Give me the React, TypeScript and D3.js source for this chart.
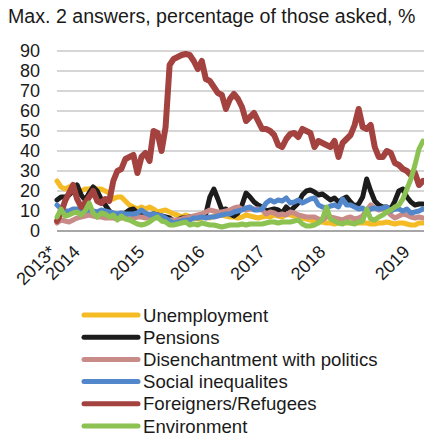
import React from "react";
import * as d3 from "d3";

// Survey points (index along the x axis) and share of respondents naming each issue, %
const unemployment = [
  25, 22, 21, 22, 23, 21, 20, 21, 21, 21.5, 21, 21, 20, 19, 16, 17, 17, 15, 13, 12,
  11, 12, 11, 12, 11, 9.5, 10, 10.5, 9.5, 8.5, 8, 7, 8, 7, 6.5, 6, 6.5, 7, 6.5, 7.5,
  8, 8, 7.5, 7, 7, 6.5, 7, 8, 7.5, 7, 6.5, 7, 7.5, 7, 8, 7.5, 7, 8.5, 8, 7.5,
  7, 6.5, 6, 5.5, 5, 4.5, 4.5, 4, 4, 3.5, 4, 4.5, 4, 4, 4.5, 4, 4, 4, 3.5, 3.5,
  4, 4, 4.5, 4, 3.5, 4, 4, 3.5, 3, 3, 4, 4,
];
const pensions = [
  15.5, 17, 17, 18, 20, 23, 18, 15.5, 19, 22, 20, 16, 13, 10, 8.5, 8, 8.5, 9, 10.5, 11,
  9, 8.5, 8, 8, 8.5, 8, 7.5, 7, 6.5, 5, 5.5, 6.5, 6.5, 7, 7, 7, 7.5, 8.5, 17, 21,
  16, 10.5, 11, 8.5, 7.5, 9, 13, 19, 17, 14.5, 13, 12, 10, 10.5, 11, 10.5, 9, 12, 10, 12,
  14, 18, 20, 20.5, 19.5, 18, 18.5, 17, 15.5, 16.5, 14.5, 16, 17, 14.5, 12.5, 13.5, 17, 26, 20, 15,
  13, 12, 12, 11, 15, 20, 21, 17, 14.5, 13, 13.5, 13.5,
];
const disenchantment = [
  4, 5.5, 5, 4.5, 5.5, 6.5, 7, 7.5, 8, 7.5, 7, 7, 6.5, 6.5, 6.5, 6, 6.5, 6.5, 6, 6.5,
  7, 7, 6.5, 7, 7.5, 6.5, 6.5, 5.5, 5.5, 5.5, 5.5, 6, 6.5, 7, 7.5, 8, 8.5, 9.5, 10.5, 10,
  9.5, 9.5, 10, 10.5, 11.5, 12, 11, 10.5, 11, 11, 11, 10.5, 8.5, 9.5, 9, 8, 8.5, 8, 9.5, 9,
  8, 7.5, 7, 7, 7, 6, 5.5, 7, 7, 6.5, 6, 5.5, 6.5, 7, 6, 6.5, 7.5, 10.5, 13, 11.5,
  10.5, 11, 10, 8, 6.5, 7.5, 8.5, 8, 7, 6.5, 7, 6.5,
];
const inequalities = [
  13, 11, 10, 10, 11, 11, 10, 10, 10.5, 10, 9.5, 10.5, 10, 9.5, 9, 8.5, 9, 8.5, 8.5, 8.5,
  9, 10.5, 9, 8, 8.5, 8, 7.5, 6.5, 5, 4, 4.5, 5, 5.5, 5.5, 6.5, 6.5, 7, 6.5, 7, 7,
  7.5, 8, 8.5, 8.5, 9.5, 10, 10.5, 11.5, 12, 10.5, 10.5, 11, 14, 15.5, 14.5, 15.5, 15, 16.5, 14, 14.5,
  15.5, 14, 15, 16, 16.5, 13, 12, 11.5, 12.5, 13, 12, 16, 13, 13, 12, 11, 11.5, 9.5, 11, 11.5,
  11, 11.5, 12, 10, 11, 11, 10, 11, 9, 9.5, 10, 11,
];
const refugees = [
  5, 9, 15, 19, 23, 16, 12, 14, 17, 20, 15, 14, 16, 15, 25, 30, 31, 36, 37, 38,
  29, 37, 39, 35, 50, 49, 40, 52, 83, 86, 87, 88, 88.5, 88, 85, 81, 85, 76, 75, 72,
  69, 68, 61, 66, 68.5, 66, 62, 55, 57, 59, 55, 51, 51, 50, 48, 43, 42, 46, 48.5, 49,
  47, 51, 50, 49, 42, 45, 44, 43, 42, 45, 37, 44, 46, 48, 53, 61, 52, 51, 53, 42,
  37, 37, 40, 39, 34, 33, 31, 30, 28, 29, 23, 25,
];
const environment = [
  7, 11, 7.5, 8, 9, 9.5, 8, 10, 14, 9, 7, 9, 8.5, 7, 8, 5.5, 7.5, 6, 5.5, 4.5,
  3.5, 3, 3.5, 4.5, 6, 7, 5, 4.5, 3, 3, 3.5, 4, 4.5, 3, 3.5, 3, 4, 3.5, 3, 3,
  2.5, 2, 2.5, 3, 3, 3, 3.5, 3, 3.5, 3.5, 3.5, 3.5, 4, 4.5, 4.5, 4, 4.5, 4.5, 4.5, 5,
  5.5, 3.5, 2.5, 2.5, 3, 4, 6, 12, 6, 5, 4, 3.5, 4.5, 4, 3.5, 4.5, 5, 11, 6, 5.5,
  7, 8, 9.5, 10.5, 12, 13, 16, 21, 26, 33, 41, 45,
];

const seriesNames = [
  "Unemployment",
  "Pensions",
  "Disenchantment with politics",
  "Social inequalites",
  "Foreigners/Refugees",
  "Environment",
];
const seriesValues = [unemployment, pensions, disenchantment, inequalities, refugees, environment];
const seriesColors = ["#f5bb25", "#1c1c1c", "#c98b88", "#5387cc", "#a3423f", "#8cc251"];

const yTicks = [0, 10, 20, 30, 40, 50, 60, 70, 80, 90];
const xTickLabels = ["2013*", "2014", "2015", "2016", "2017", "2018", "2019"];
const xTickIndex = [0, 6, 22, 37, 52, 67, 88];

const title = "Max. 2 answers, percentage of those asked, %";

const FONT = "'Liberation Sans', Arial, Helvetica, sans-serif";

export default function App() {
  const W = 424;
  const H = 436;
  const n = refugees.length;

  const x = d3.scaleLinear().domain([0, n - 1]).range([57, 423]);
  const y = d3.scaleLinear().domain([0, 90]).range([231, 51]);

  const line = d3
    .line<number>()
    .x((_, i) => x(i))
    .y((d) => y(d))
    .curve(d3.curveLinear);

  const legendTop = 315;
  const legendStep = 22.2;

  return (
    <svg
      width={W}
      height={H}
      viewBox={`0 0 ${W} ${H}`}
      style={{ position: "absolute", left: 0, top: 0, background: "#fff" }}
      fontFamily={FONT}
    >
      <text x={8} y={23} fontSize={19.6} fill="#1a1a1a">
        {title}
      </text>

      {/* horizontal grid */}
      {yTicks
        .filter((t) => t > 0)
        .map((t) => (
          <line key={t} x1={57} x2={W} y1={y(t)} y2={y(t)} stroke="#c9c9c9" strokeWidth={1.5} />
        ))}
      <line x1={57} x2={W} y1={y(0)} y2={y(0)} stroke="#8a8a8a" strokeWidth={1.5} />

      {/* y tick labels */}
      {yTicks.map((t) => (
        <text
          key={t}
          x={40}
          y={y(t)}
          dy="0.36em"
          textAnchor="end"
          fontSize={18}
          fill="#1a1a1a"
        >
          {t}
        </text>
      ))}

      {/* x tick labels */}
      {xTickLabels.map((lab, k) => (
        <text
          key={lab}
          transform={`translate(${x(xTickIndex[k])},${253}) rotate(-45)`}
          textAnchor="end"
          fontSize={18}
          fill="#1a1a1a"
        >
          {lab}
        </text>
      ))}

      {/* series */}
      {seriesValues.map((vals, s) => (
        <path
          key={seriesNames[s]}
          d={line(vals) ?? ""}
          fill="none"
          stroke={seriesColors[s]}
          strokeWidth={s === 4 ? 6 : 5}
          strokeLinejoin="round"
          strokeLinecap="round"
        />
      ))}

      {/* legend */}
      {seriesNames.map((name, s) => {
        const cy = legendTop + s * legendStep;
        return (
          <g key={name}>
            <line
              x1={84}
              x2={138}
              y1={cy}
              y2={cy}
              stroke={seriesColors[s]}
              strokeWidth={5}
              strokeLinecap="round"
            />
            <text x={143} y={cy} dy="0.36em" fontSize={18.6} fill="#1a1a1a">
              {name}
            </text>
          </g>
        );
      })}
    </svg>
  );
}
